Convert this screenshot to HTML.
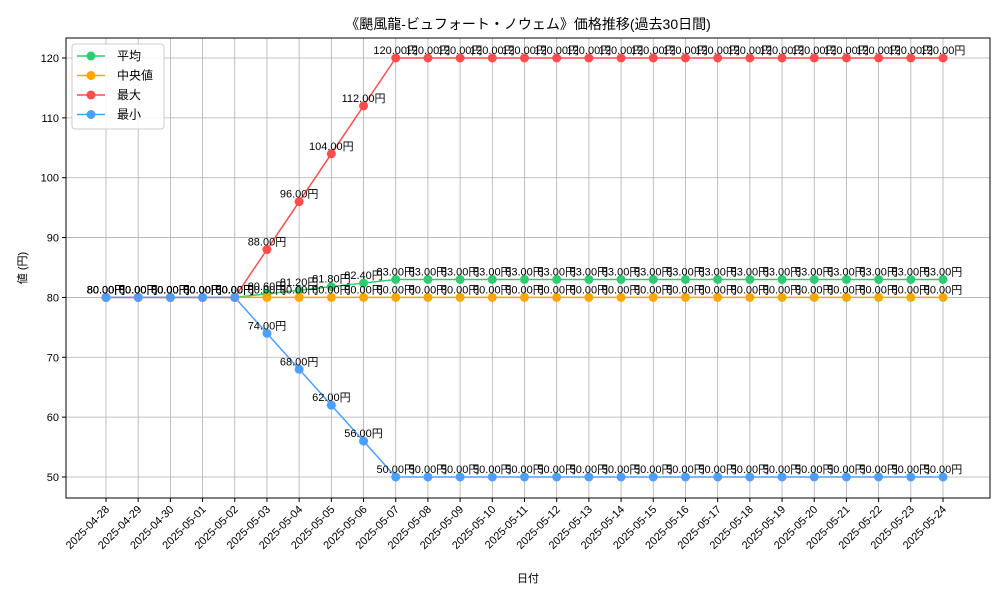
<!DOCTYPE html>
<html><head><meta charset="utf-8"><style>
body{margin:0;background:#fff}
svg text{font-family:"Liberation Sans","Noto Sans CJK JP",sans-serif}
</style></head><body>
<svg id="c" width="1000" height="600" xmlns="http://www.w3.org/2000/svg"></svg>
<script>
const dates=["2025-04-28","2025-04-29","2025-04-30","2025-05-01","2025-05-02","2025-05-03","2025-05-04","2025-05-05","2025-05-06","2025-05-07","2025-05-08","2025-05-09","2025-05-10","2025-05-11","2025-05-12","2025-05-13","2025-05-14","2025-05-15","2025-05-16","2025-05-17","2025-05-18","2025-05-19","2025-05-20","2025-05-21","2025-05-22","2025-05-23","2025-05-24"];
const avgVals=[80,80,80,80,80,80.6,81.2,81.8,82.4,83,83,83,83,83,83,83,83,83,83,83,83,83,83,83,83,83,83];
const medVals=[80,80,80,80,80,80,80,80,80,80,80,80,80,80,80,80,80,80,80,80,80,80,80,80,80,80,80];
const maxVals=[80,80,80,80,80,88,96,104,112,120,120,120,120,120,120,120,120,120,120,120,120,120,120,120,120,120,120];
const minVals=[80,80,80,80,80,74,68,62,56,50,50,50,50,50,50,50,50,50,50,50,50,50,50,50,50,50,50];
const yTicks=[50,60,70,80,90,100,110,120];
const series=[["平均",avgVals,"#2ecc71","avg"],["中央値",medVals,"#ffa500","median"],["最大",maxVals,"#ff4d4d","max"],["最小",minVals,"#4d9fff","min"]];
const svg=document.getElementById('c');const NS="http://www.w3.org/2000/svg";
const L=66,T=38,R=990,B=498;
const x=i=>106+i*(943-106)/(dates.length-1);
const y=v=>477-(v-50)*(477-58)/70;
function el(t,a,p){const e=document.createElementNS(NS,t);for(const k in a)e.setAttribute(k,a[k]);(p||svg).appendChild(e);return e;}
const title=el('text',{x:528,y:29,'text-anchor':'middle','font-size':14});title.textContent="《颶風龍-ビュフォート・ノウェム》価格推移(過去30日間)";


const grid=el('g',{});


dates.forEach((d,i)=>{el('line',{x1:x(i),x2:x(i),y1:T,y2:B,stroke:'#b0b0b0','stroke-width':0.8},grid);
el('line',{x1:x(i),x2:x(i),y1:B,y2:B+4,stroke:'#000'},grid);
const t=el('text',{'font-size':11,'text-anchor':'end',transform:`translate(${x(i)+4},${B+12}) rotate(-45)`});t.textContent=d;

});
yTicks.forEach(v=>{el('line',{x1:L,x2:R,y1:y(v),y2:y(v),stroke:'#b0b0b0','stroke-width':0.8},grid);
el('line',{x1:L-4,x2:L,y1:y(v),y2:y(v),stroke:'#000'},grid);
const t=el('text',{x:L-7,y:y(v)+4,'font-size':11,'text-anchor':'end'});t.textContent=v;

});
const frame=el('rect',{x:L,y:T,width:R-L,height:B-T,fill:'none',stroke:'#000','stroke-width':1});


series.forEach(([n,vals,c,id])=>{const g=el('g',{});


el('polyline',{points:vals.map((v,i)=>x(i)+','+y(v)).join(' '),fill:'none',stroke:c,'stroke-width':1.5},g);
vals.forEach((v,i)=>{const p=el('circle',{cx:x(i),cy:y(v),r:4.5,fill:c},g);

});});
series.forEach(([n,vals,c,id])=>{vals.forEach((v,i)=>{const t=el('text',{x:x(i),y:y(v)-4,'font-size':11,'text-anchor':'middle'});t.textContent=v.toFixed(2)+"円";

});});
const yl=el('text',{'font-size':11,'text-anchor':'middle',transform:`translate(26,${(T+B)/2}) rotate(-90)`});yl.textContent="値 (円)";


const xl=el('text',{x:528,y:582,'font-size':11,'text-anchor':'middle'});xl.textContent="日付";


const lg=el('g',{});


el('rect',{x:72,y:44,width:92,height:85,rx:3,fill:'#fff','fill-opacity':0.85,stroke:'#ccc'},lg);
series.forEach(([n,vals,c,id],k)=>{const yy=56+k*19.5;
el('line',{x1:77,x2:105,y1:yy,y2:yy,stroke:c,'stroke-width':1.5},lg);
el('circle',{cx:91,cy:yy,r:4.5,fill:c},lg);
const t=el('text',{x:117,y:yy+4,'font-size':12},lg);t.textContent=n;

});
</script></body></html>
